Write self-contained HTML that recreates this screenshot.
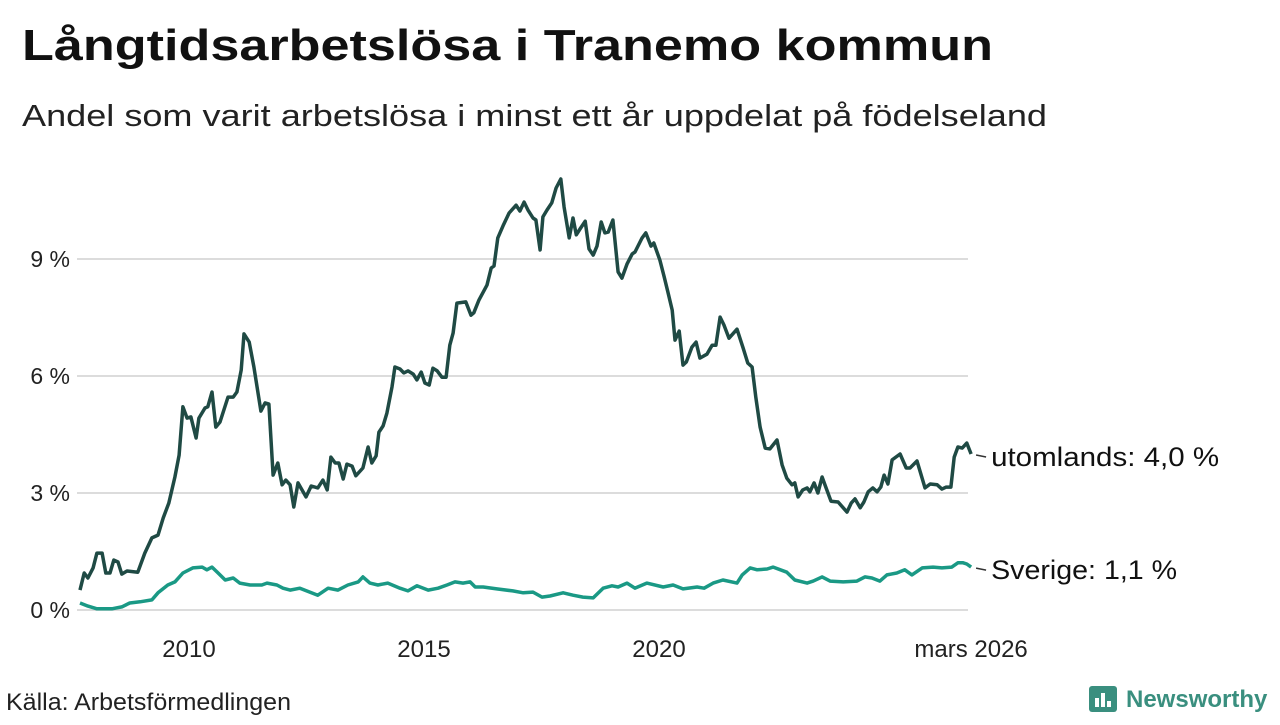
<!DOCTYPE html>
<html><head><meta charset="utf-8"><style>
body{margin:0;background:#fff;width:1280px;height:720px;overflow:hidden;font-family:"Liberation Sans",sans-serif}
</style></head><body>
<svg id="chart" width="1280" height="720" viewBox="0 0 1280 720" xmlns="http://www.w3.org/2000/svg" font-family="Liberation Sans, sans-serif">
<text x="22" y="60" font-size="44" font-weight="bold" fill="#111" textLength="971" lengthAdjust="spacingAndGlyphs">Långtidsarbetslösa i Tranemo kommun</text>
<text x="22" y="126" font-size="31" fill="#222" textLength="1025" lengthAdjust="spacingAndGlyphs">Andel som varit arbetslösa i minst ett år uppdelat på födelseland</text>
<g id="grid"></g>
<g id="yticks"></g>
<g id="xticks"></g>
<g id="series"></g>
<text x="6" y="710" font-size="24" fill="#222" textLength="285" lengthAdjust="spacingAndGlyphs">Källa: Arbetsförmedlingen</text>
<g>
<rect x="1089" y="686" width="28" height="26" rx="3" fill="#3a8f7f"/>
<rect x="1095" y="698" width="4" height="9" fill="#fff"/><rect x="1101" y="693" width="4" height="14" fill="#fff"/><rect x="1107" y="701" width="4" height="6" fill="#fff"/>
<text x="1126" y="707" font-size="24" font-weight="bold" fill="#3a8f7f">Newsworthy</text>
</g>
</svg>
<script>
const yTicks=[0,3,6,9];
const xTickYears=[2010,2015,2020];
const lastLabel="mars 2026";
const utYears=[2007.68,2007.77,2007.85,2007.96,2008.04,2008.15,2008.23,2008.32,2008.40,2008.49,2008.57,2008.68,2008.91,2009.06,2009.21,2009.34,2009.45,2009.57,2009.70,2009.79,2009.87,2009.96,2010.04,2010.15,2010.21,2010.34,2010.40,2010.49,2010.57,2010.66,2010.83,2010.94,2011.02,2011.11,2011.17,2011.28,2011.38,2011.53,2011.62,2011.70,2011.79,2011.89,2011.98,2012.06,2012.15,2012.23,2012.32,2012.49,2012.60,2012.74,2012.85,2012.94,2013.02,2013.11,2013.19,2013.28,2013.36,2013.47,2013.55,2013.70,2013.81,2013.89,2013.98,2014.04,2014.13,2014.21,2014.32,2014.38,2014.49,2014.57,2014.66,2014.77,2014.85,2014.94,2015.02,2015.11,2015.19,2015.28,2015.38,2015.47,2015.55,2015.62,2015.70,2015.89,2016.00,2016.06,2016.17,2016.34,2016.43,2016.49,2016.57,2016.68,2016.81,2016.96,2017.04,2017.13,2017.21,2017.32,2017.38,2017.47,2017.53,2017.62,2017.72,2017.81,2017.91,2017.98,2018.09,2018.17,2018.24,2018.32,2018.43,2018.51,2018.60,2018.68,2018.77,2018.85,2018.92,2019.02,2019.13,2019.21,2019.32,2019.43,2019.49,2019.64,2019.72,2019.83,2019.89,2020.02,2020.11,2020.19,2020.28,2020.34,2020.43,2020.51,2020.58,2020.70,2020.79,2020.87,2021.02,2021.13,2021.21,2021.30,2021.38,2021.49,2021.66,2021.79,2021.89,2021.98,2022.06,2022.15,2022.26,2022.36,2022.51,2022.62,2022.72,2022.83,2022.89,2022.96,2023.06,2023.15,2023.21,2023.30,2023.38,2023.47,2023.55,2023.66,2023.81,2024.00,2024.09,2024.17,2024.28,2024.36,2024.45,2024.55,2024.64,2024.72,2024.79,2024.87,2024.96,2025.13,2025.26,2025.34,2025.49,2025.66,2025.77,2025.92,2026.02,2026.11,2026.21,2026.28,2026.36,2026.45,2026.55,2026.64];
const utValues=[0.51,0.95,0.82,1.08,1.46,1.46,0.95,0.95,1.28,1.23,0.92,1.00,0.97,1.46,1.85,1.92,2.36,2.74,3.41,3.97,5.21,4.92,4.95,4.41,4.92,5.18,5.21,5.59,4.69,4.82,5.46,5.46,5.59,6.15,7.08,6.87,6.23,5.10,5.31,5.28,3.46,3.77,3.21,3.33,3.21,2.64,3.26,2.90,3.18,3.13,3.33,3.08,3.92,3.77,3.77,3.36,3.74,3.69,3.44,3.64,4.18,3.77,3.95,4.56,4.72,5.05,5.72,6.23,6.18,6.08,6.13,6.05,5.90,6.10,5.82,5.77,6.20,6.13,5.97,5.97,6.79,7.10,7.87,7.90,7.56,7.62,7.95,8.33,8.77,8.82,9.54,9.85,10.18,10.38,10.23,10.46,10.26,10.05,10.00,9.23,10.08,10.26,10.44,10.82,11.05,10.33,9.54,10.05,9.62,9.77,9.97,9.26,9.10,9.33,9.95,9.67,9.69,10.00,8.67,8.51,8.87,9.13,9.18,9.54,9.67,9.33,9.41,8.97,8.54,8.15,7.69,6.92,7.15,6.28,6.36,6.74,6.87,6.46,6.56,6.79,6.79,7.51,7.31,6.97,7.20,6.72,6.33,6.23,5.46,4.69,4.15,4.13,4.36,3.72,3.38,3.21,3.26,2.90,3.08,3.13,3.03,3.26,3.00,3.41,3.15,2.79,2.77,2.51,2.74,2.85,2.62,2.77,3.03,3.13,3.03,3.15,3.46,3.23,3.85,4.00,3.64,3.64,3.82,3.13,3.23,3.21,3.10,3.15,3.15,3.92,4.18,4.15,4.28,4.0];
const seYears=[2007.68,2007.85,2008.04,2008.36,2008.57,2008.74,2008.96,2009.21,2009.34,2009.55,2009.70,2009.87,2010.08,2010.28,2010.38,2010.49,2010.62,2010.77,2010.94,2011.08,2011.30,2011.55,2011.66,2011.87,2012.00,2012.15,2012.36,2012.57,2012.74,2012.96,2013.17,2013.38,2013.60,2013.70,2013.85,2014.02,2014.23,2014.49,2014.66,2014.85,2015.09,2015.30,2015.49,2015.66,2015.83,2015.98,2016.09,2016.26,2016.55,2016.89,2017.11,2017.32,2017.51,2017.68,2017.96,2018.17,2018.38,2018.60,2018.81,2019.00,2019.13,2019.32,2019.49,2019.74,2020.09,2020.30,2020.51,2020.81,2020.96,2021.15,2021.36,2021.66,2021.77,2021.94,2022.09,2022.30,2022.43,2022.72,2022.89,2023.15,2023.28,2023.47,2023.64,2023.92,2024.21,2024.38,2024.53,2024.70,2024.85,2025.06,2025.23,2025.38,2025.60,2025.83,2026.02,2026.23,2026.36,2026.47,2026.55,2026.64];
const seValues=[0.18,0.10,0.03,0.03,0.08,0.18,0.21,0.26,0.44,0.64,0.72,0.95,1.08,1.10,1.03,1.10,0.95,0.77,0.82,0.69,0.64,0.64,0.69,0.64,0.56,0.51,0.56,0.46,0.38,0.56,0.51,0.64,0.72,0.85,0.69,0.64,0.69,0.56,0.49,0.62,0.51,0.56,0.64,0.72,0.69,0.72,0.59,0.59,0.54,0.49,0.44,0.46,0.33,0.36,0.44,0.38,0.33,0.31,0.56,0.62,0.59,0.69,0.56,0.69,0.59,0.64,0.54,0.59,0.56,0.69,0.77,0.69,0.90,1.08,1.03,1.05,1.10,0.97,0.77,0.69,0.74,0.85,0.74,0.72,0.74,0.85,0.82,0.74,0.90,0.95,1.03,0.90,1.08,1.10,1.08,1.10,1.21,1.21,1.18,1.1];
const seriesNames=["utomlands","Sverige"];
const NS="http://www.w3.org/2000/svg";
const x=yr=>189+(yr-2010)*47;
const y=v=>610-v*39;
const fmt=v=>v.toFixed(1).replace('.',',');
const grid=document.getElementById('grid'),yt=document.getElementById('yticks'),xt=document.getElementById('xticks'),sg=document.getElementById('series');
function mk(tag,attrs,parent,text){const e=document.createElementNS(NS,tag);for(const k in attrs)e.setAttribute(k,attrs[k]);if(text!==undefined)e.textContent=text;parent.appendChild(e);return e;}
yTicks.forEach(t=>{
  const l=mk('line',{x1:77,x2:968,y1:y(t),y2:y(t),stroke:'#dcdcdc','stroke-width':2},grid);
  
  
  const tx=mk('text',{x:70,y:y(t)+8,'text-anchor':'end','font-size':23,fill:'#222'},yt,t+' %');
  
  
});
xTickYears.forEach(t=>{
  const tx=mk('text',{x:x(t),y:657,'text-anchor':'middle','font-size':24,fill:'#222'},xt,String(t));
  
  
});
const lastX=x(utYears[utYears.length-1]);
const lt=mk('text',{x:lastX,y:657,'text-anchor':'middle','font-size':24,fill:'#222'},xt,lastLabel);


function draw(years,vals,color,name,len){
  const d=years.map((yr,i)=>(i?'L':'M')+x(yr).toFixed(1)+' '+y(vals[i]).toFixed(1)).join(' ');
  const p=mk('path',{d:d,fill:'none',stroke:color,'stroke-width':3.5,'stroke-linejoin':'round'},sg);
  
  
  const lv=vals[vals.length-1],ly=y(lv),lx=x(years[years.length-1]);
  const t=mk('line',{x1:lx+5,x2:lx+15,y1:ly+1,y2:ly+3,stroke:'#333','stroke-width':1.5},sg);
  
  
  const tx=mk('text',{x:lx+20,y:ly+12,'font-size':27,fill:'#111',textLength:len,lengthAdjust:'spacingAndGlyphs'},sg,name+': '+fmt(lv)+' %');
  
  
}
draw(seYears,seValues,'#1a9985',seriesNames[1],186);
draw(utYears,utValues,'#1f4a44',seriesNames[0],228);
</script>
</body></html>
